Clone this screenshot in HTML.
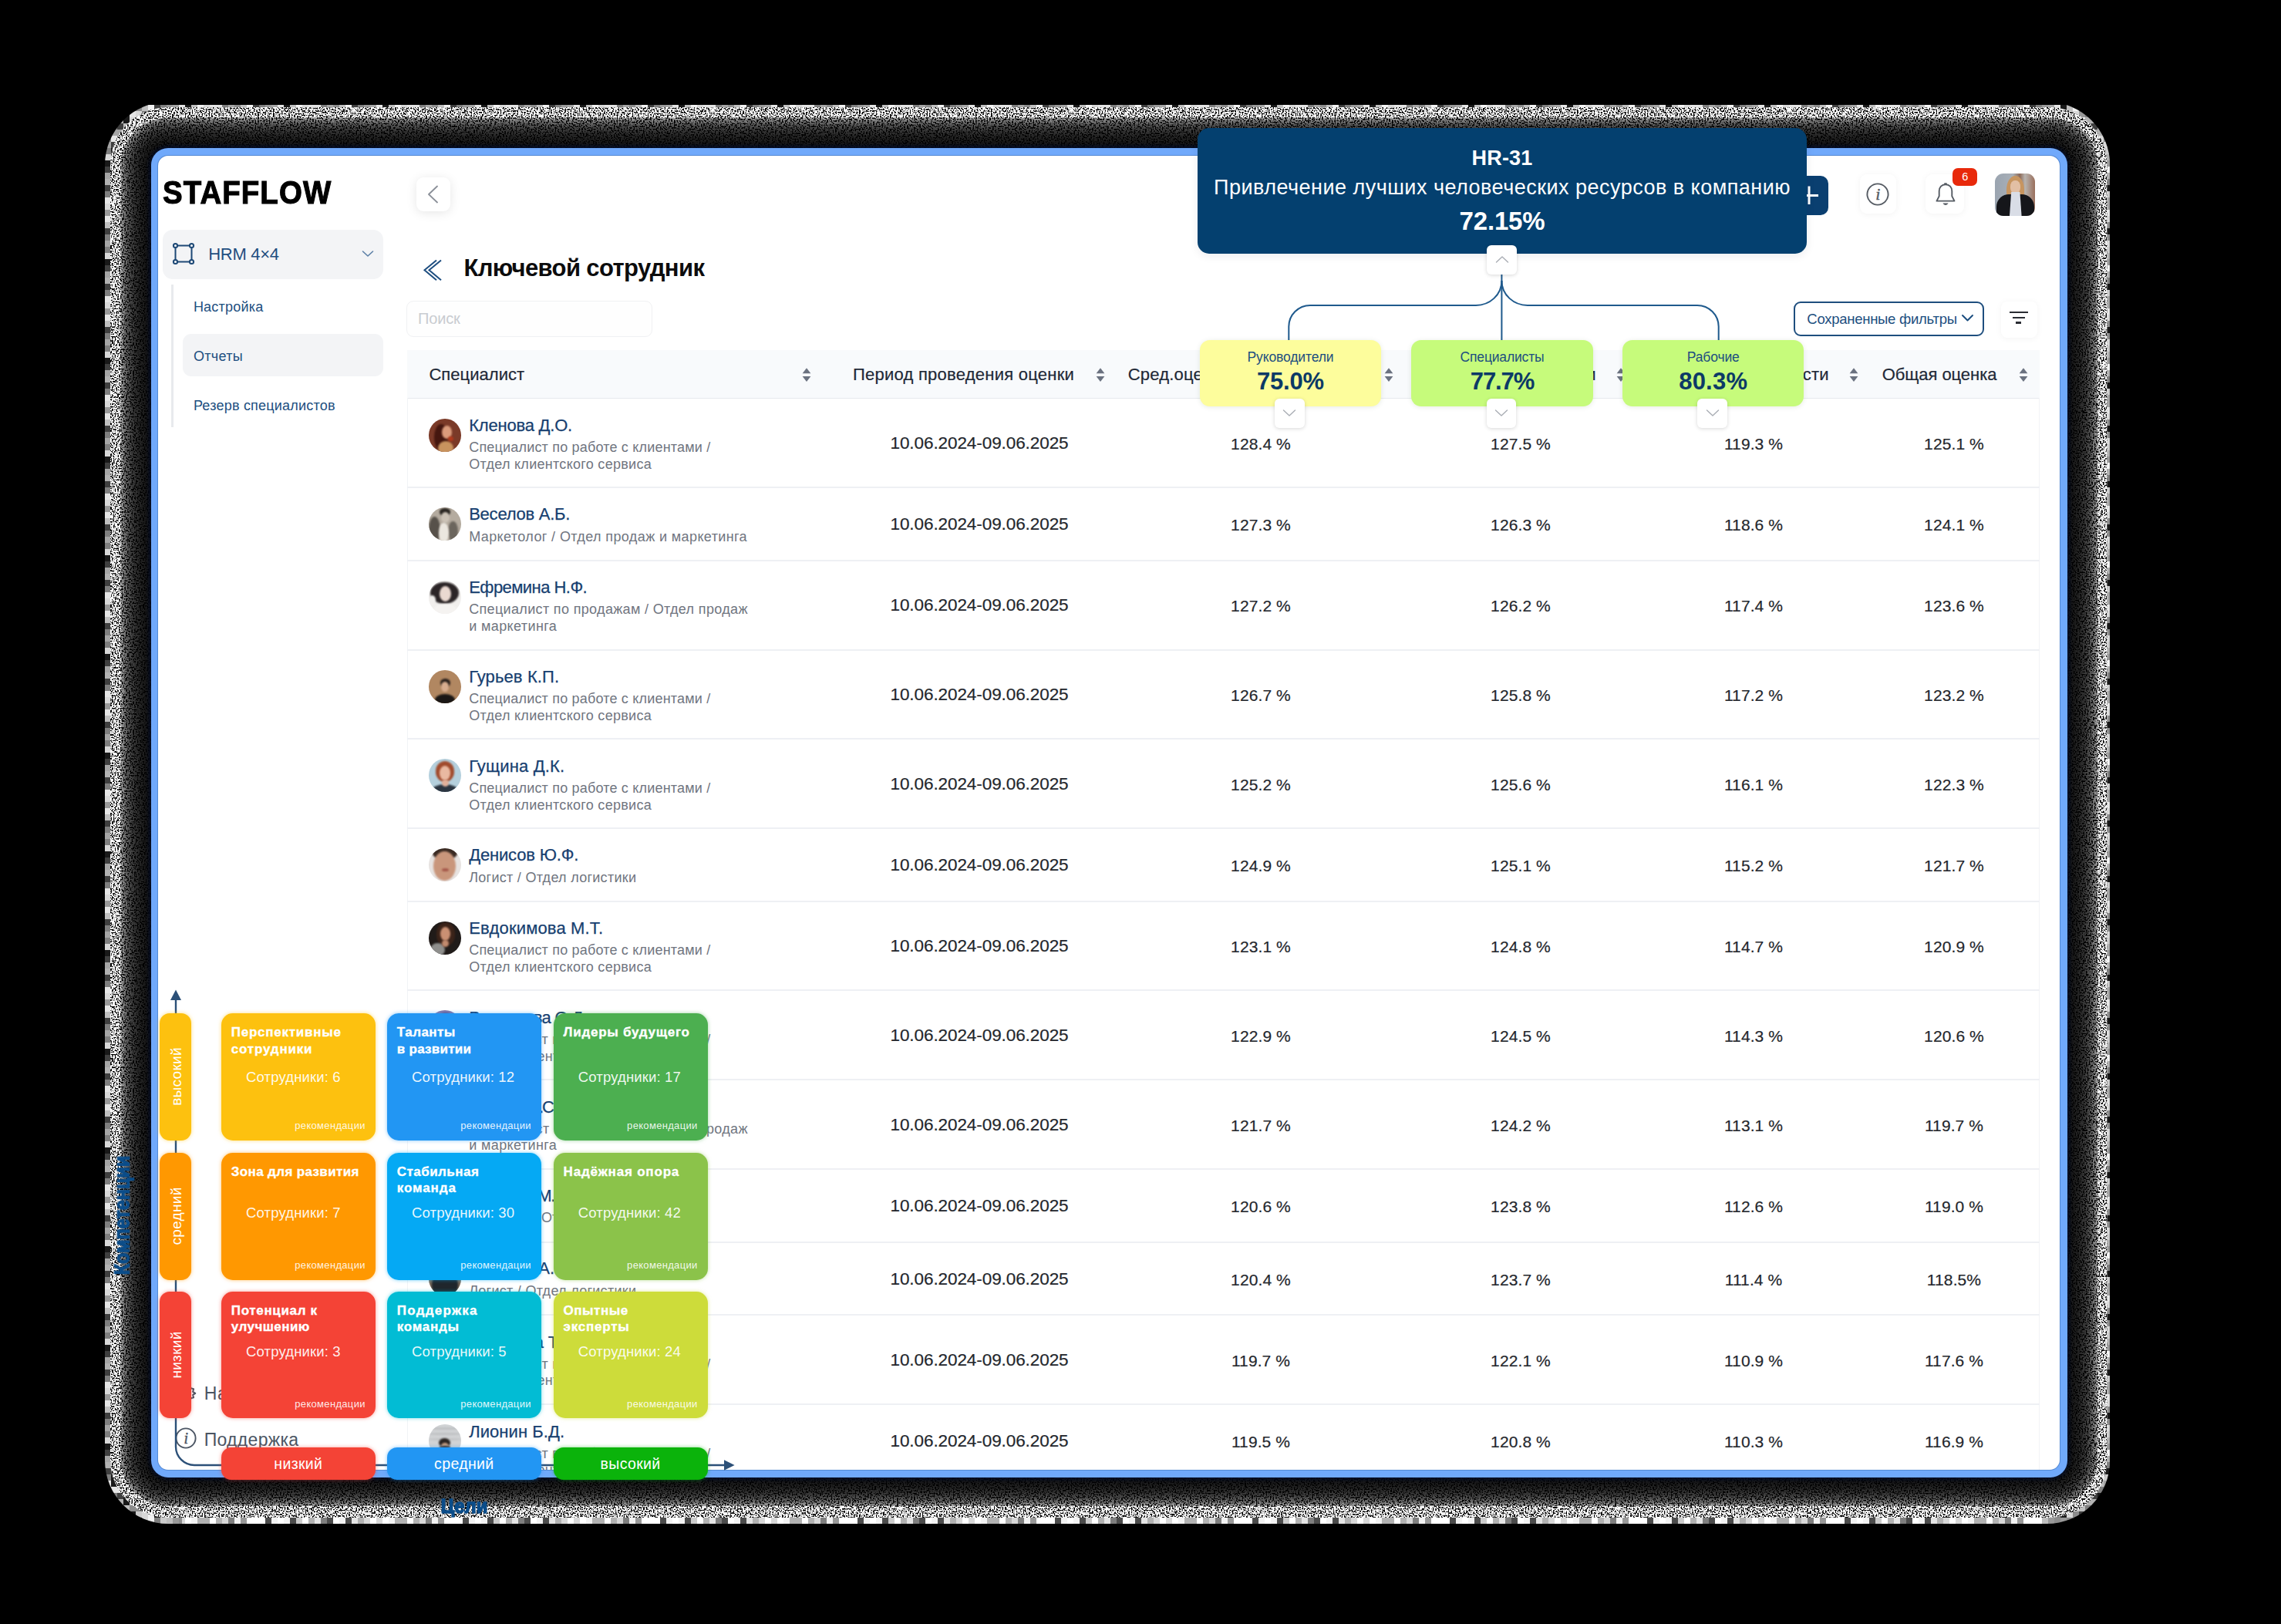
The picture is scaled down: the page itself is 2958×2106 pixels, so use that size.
<!DOCTYPE html>
<html lang="ru"><head><meta charset="utf-8"><title>STAFFLOW</title><style>
html,body{margin:0;padding:0;background:#000;}
body{width:2958px;height:2106px;position:relative;overflow:hidden;font-family:"Liberation Sans",sans-serif;}
.t{position:absolute;white-space:nowrap;}
.av{position:absolute;width:42.4px;height:43px;border-radius:50%;overflow:hidden;background:#888;}
.av i{position:absolute;border-radius:50%;filter:blur(1.3px);}
</style></head><body>
<svg style="position:absolute;left:0;top:0" width="2958" height="2106" viewBox="0 0 2958 2106">
<defs>
<pattern id="blk" width="128" height="128" patternUnits="userSpaceOnUse" x="136" y="136">
<rect x="0" y="0" width="8" height="8" fill="rgb(216,216,216)"/>
<rect x="0" y="8" width="8" height="8" fill="rgb(153,153,153)"/>
<rect x="0" y="16" width="8" height="8" fill="rgb(229,229,229)"/>
<rect x="0" y="24" width="8" height="8" fill="rgb(191,191,191)"/>
<rect x="0" y="32" width="8" height="8" fill="rgb(63,63,63)"/>
<rect x="0" y="40" width="8" height="8" fill="rgb(127,127,127)"/>
<rect x="0" y="48" width="8" height="8" fill="rgb(165,165,165)"/>
<rect x="0" y="56" width="8" height="8" fill="rgb(127,127,127)"/>
<rect x="0" y="64" width="8" height="8" fill="rgb(216,216,216)"/>
<rect x="0" y="72" width="8" height="8" fill="rgb(25,25,25)"/>
<rect x="0" y="80" width="8" height="8" fill="rgb(63,63,63)"/>
<rect x="0" y="88" width="8" height="8" fill="rgb(165,165,165)"/>
<rect x="0" y="96" width="8" height="8" fill="rgb(178,178,178)"/>
<rect x="0" y="104" width="8" height="8" fill="rgb(63,63,63)"/>
<rect x="0" y="112" width="8" height="8" fill="rgb(127,127,127)"/>
<rect x="0" y="120" width="8" height="8" fill="rgb(229,229,229)"/>
<rect x="8" y="0" width="8" height="8" fill="rgb(229,229,229)"/>
<rect x="8" y="8" width="8" height="8" fill="rgb(127,127,127)"/>
<rect x="8" y="16" width="8" height="8" fill="rgb(178,178,178)"/>
<rect x="8" y="24" width="8" height="8" fill="rgb(127,127,127)"/>
<rect x="8" y="32" width="8" height="8" fill="rgb(165,165,165)"/>
<rect x="8" y="40" width="8" height="8" fill="rgb(229,229,229)"/>
<rect x="8" y="48" width="8" height="8" fill="rgb(63,63,63)"/>
<rect x="8" y="56" width="8" height="8" fill="rgb(25,25,25)"/>
<rect x="8" y="64" width="8" height="8" fill="rgb(127,127,127)"/>
<rect x="8" y="72" width="8" height="8" fill="rgb(178,178,178)"/>
<rect x="8" y="80" width="8" height="8" fill="rgb(191,191,191)"/>
<rect x="8" y="88" width="8" height="8" fill="rgb(191,191,191)"/>
<rect x="8" y="96" width="8" height="8" fill="rgb(25,25,25)"/>
<rect x="8" y="104" width="8" height="8" fill="rgb(63,63,63)"/>
<rect x="8" y="112" width="8" height="8" fill="rgb(25,25,25)"/>
<rect x="8" y="120" width="8" height="8" fill="rgb(25,25,25)"/>
<rect x="16" y="0" width="8" height="8" fill="rgb(229,229,229)"/>
<rect x="16" y="8" width="8" height="8" fill="rgb(63,63,63)"/>
<rect x="16" y="16" width="8" height="8" fill="rgb(178,178,178)"/>
<rect x="16" y="24" width="8" height="8" fill="rgb(63,63,63)"/>
<rect x="16" y="32" width="8" height="8" fill="rgb(165,165,165)"/>
<rect x="16" y="40" width="8" height="8" fill="rgb(153,153,153)"/>
<rect x="16" y="48" width="8" height="8" fill="rgb(204,204,204)"/>
<rect x="16" y="56" width="8" height="8" fill="rgb(229,229,229)"/>
<rect x="16" y="64" width="8" height="8" fill="rgb(153,153,153)"/>
<rect x="16" y="72" width="8" height="8" fill="rgb(165,165,165)"/>
<rect x="16" y="80" width="8" height="8" fill="rgb(127,127,127)"/>
<rect x="16" y="88" width="8" height="8" fill="rgb(25,25,25)"/>
<rect x="16" y="96" width="8" height="8" fill="rgb(204,204,204)"/>
<rect x="16" y="104" width="8" height="8" fill="rgb(165,165,165)"/>
<rect x="16" y="112" width="8" height="8" fill="rgb(191,191,191)"/>
<rect x="16" y="120" width="8" height="8" fill="rgb(153,153,153)"/>
<rect x="24" y="0" width="8" height="8" fill="rgb(127,127,127)"/>
<rect x="24" y="8" width="8" height="8" fill="rgb(25,25,25)"/>
<rect x="24" y="16" width="8" height="8" fill="rgb(25,25,25)"/>
<rect x="24" y="24" width="8" height="8" fill="rgb(191,191,191)"/>
<rect x="24" y="32" width="8" height="8" fill="rgb(178,178,178)"/>
<rect x="24" y="40" width="8" height="8" fill="rgb(216,216,216)"/>
<rect x="24" y="48" width="8" height="8" fill="rgb(127,127,127)"/>
<rect x="24" y="56" width="8" height="8" fill="rgb(165,165,165)"/>
<rect x="24" y="64" width="8" height="8" fill="rgb(242,242,242)"/>
<rect x="24" y="72" width="8" height="8" fill="rgb(127,127,127)"/>
<rect x="24" y="80" width="8" height="8" fill="rgb(25,25,25)"/>
<rect x="24" y="88" width="8" height="8" fill="rgb(63,63,63)"/>
<rect x="24" y="96" width="8" height="8" fill="rgb(25,25,25)"/>
<rect x="24" y="104" width="8" height="8" fill="rgb(178,178,178)"/>
<rect x="24" y="112" width="8" height="8" fill="rgb(140,140,140)"/>
<rect x="24" y="120" width="8" height="8" fill="rgb(191,191,191)"/>
<rect x="32" y="0" width="8" height="8" fill="rgb(165,165,165)"/>
<rect x="32" y="8" width="8" height="8" fill="rgb(229,229,229)"/>
<rect x="32" y="16" width="8" height="8" fill="rgb(216,216,216)"/>
<rect x="32" y="24" width="8" height="8" fill="rgb(140,140,140)"/>
<rect x="32" y="32" width="8" height="8" fill="rgb(25,25,25)"/>
<rect x="32" y="40" width="8" height="8" fill="rgb(140,140,140)"/>
<rect x="32" y="48" width="8" height="8" fill="rgb(216,216,216)"/>
<rect x="32" y="56" width="8" height="8" fill="rgb(204,204,204)"/>
<rect x="32" y="64" width="8" height="8" fill="rgb(178,178,178)"/>
<rect x="32" y="72" width="8" height="8" fill="rgb(153,153,153)"/>
<rect x="32" y="80" width="8" height="8" fill="rgb(242,242,242)"/>
<rect x="32" y="88" width="8" height="8" fill="rgb(178,178,178)"/>
<rect x="32" y="96" width="8" height="8" fill="rgb(127,127,127)"/>
<rect x="32" y="104" width="8" height="8" fill="rgb(25,25,25)"/>
<rect x="32" y="112" width="8" height="8" fill="rgb(204,204,204)"/>
<rect x="32" y="120" width="8" height="8" fill="rgb(165,165,165)"/>
<rect x="40" y="0" width="8" height="8" fill="rgb(140,140,140)"/>
<rect x="40" y="8" width="8" height="8" fill="rgb(216,216,216)"/>
<rect x="40" y="16" width="8" height="8" fill="rgb(242,242,242)"/>
<rect x="40" y="24" width="8" height="8" fill="rgb(140,140,140)"/>
<rect x="40" y="32" width="8" height="8" fill="rgb(204,204,204)"/>
<rect x="40" y="40" width="8" height="8" fill="rgb(25,25,25)"/>
<rect x="40" y="48" width="8" height="8" fill="rgb(127,127,127)"/>
<rect x="40" y="56" width="8" height="8" fill="rgb(127,127,127)"/>
<rect x="40" y="64" width="8" height="8" fill="rgb(165,165,165)"/>
<rect x="40" y="72" width="8" height="8" fill="rgb(229,229,229)"/>
<rect x="40" y="80" width="8" height="8" fill="rgb(153,153,153)"/>
<rect x="40" y="88" width="8" height="8" fill="rgb(216,216,216)"/>
<rect x="40" y="96" width="8" height="8" fill="rgb(153,153,153)"/>
<rect x="40" y="104" width="8" height="8" fill="rgb(140,140,140)"/>
<rect x="40" y="112" width="8" height="8" fill="rgb(229,229,229)"/>
<rect x="40" y="120" width="8" height="8" fill="rgb(63,63,63)"/>
<rect x="48" y="0" width="8" height="8" fill="rgb(191,191,191)"/>
<rect x="48" y="8" width="8" height="8" fill="rgb(127,127,127)"/>
<rect x="48" y="16" width="8" height="8" fill="rgb(165,165,165)"/>
<rect x="48" y="24" width="8" height="8" fill="rgb(25,25,25)"/>
<rect x="48" y="32" width="8" height="8" fill="rgb(216,216,216)"/>
<rect x="48" y="40" width="8" height="8" fill="rgb(216,216,216)"/>
<rect x="48" y="48" width="8" height="8" fill="rgb(242,242,242)"/>
<rect x="48" y="56" width="8" height="8" fill="rgb(216,216,216)"/>
<rect x="48" y="64" width="8" height="8" fill="rgb(25,25,25)"/>
<rect x="48" y="72" width="8" height="8" fill="rgb(140,140,140)"/>
<rect x="48" y="80" width="8" height="8" fill="rgb(25,25,25)"/>
<rect x="48" y="88" width="8" height="8" fill="rgb(140,140,140)"/>
<rect x="48" y="96" width="8" height="8" fill="rgb(127,127,127)"/>
<rect x="48" y="104" width="8" height="8" fill="rgb(127,127,127)"/>
<rect x="48" y="112" width="8" height="8" fill="rgb(204,204,204)"/>
<rect x="48" y="120" width="8" height="8" fill="rgb(140,140,140)"/>
<rect x="56" y="0" width="8" height="8" fill="rgb(242,242,242)"/>
<rect x="56" y="8" width="8" height="8" fill="rgb(191,191,191)"/>
<rect x="56" y="16" width="8" height="8" fill="rgb(127,127,127)"/>
<rect x="56" y="24" width="8" height="8" fill="rgb(63,63,63)"/>
<rect x="56" y="32" width="8" height="8" fill="rgb(242,242,242)"/>
<rect x="56" y="40" width="8" height="8" fill="rgb(242,242,242)"/>
<rect x="56" y="48" width="8" height="8" fill="rgb(204,204,204)"/>
<rect x="56" y="56" width="8" height="8" fill="rgb(191,191,191)"/>
<rect x="56" y="64" width="8" height="8" fill="rgb(25,25,25)"/>
<rect x="56" y="72" width="8" height="8" fill="rgb(191,191,191)"/>
<rect x="56" y="80" width="8" height="8" fill="rgb(140,140,140)"/>
<rect x="56" y="88" width="8" height="8" fill="rgb(204,204,204)"/>
<rect x="56" y="96" width="8" height="8" fill="rgb(242,242,242)"/>
<rect x="56" y="104" width="8" height="8" fill="rgb(229,229,229)"/>
<rect x="56" y="112" width="8" height="8" fill="rgb(191,191,191)"/>
<rect x="56" y="120" width="8" height="8" fill="rgb(216,216,216)"/>
<rect x="64" y="0" width="8" height="8" fill="rgb(63,63,63)"/>
<rect x="64" y="8" width="8" height="8" fill="rgb(140,140,140)"/>
<rect x="64" y="16" width="8" height="8" fill="rgb(216,216,216)"/>
<rect x="64" y="24" width="8" height="8" fill="rgb(153,153,153)"/>
<rect x="64" y="32" width="8" height="8" fill="rgb(25,25,25)"/>
<rect x="64" y="40" width="8" height="8" fill="rgb(127,127,127)"/>
<rect x="64" y="48" width="8" height="8" fill="rgb(140,140,140)"/>
<rect x="64" y="56" width="8" height="8" fill="rgb(63,63,63)"/>
<rect x="64" y="64" width="8" height="8" fill="rgb(178,178,178)"/>
<rect x="64" y="72" width="8" height="8" fill="rgb(204,204,204)"/>
<rect x="64" y="80" width="8" height="8" fill="rgb(153,153,153)"/>
<rect x="64" y="88" width="8" height="8" fill="rgb(242,242,242)"/>
<rect x="64" y="96" width="8" height="8" fill="rgb(178,178,178)"/>
<rect x="64" y="104" width="8" height="8" fill="rgb(229,229,229)"/>
<rect x="64" y="112" width="8" height="8" fill="rgb(229,229,229)"/>
<rect x="64" y="120" width="8" height="8" fill="rgb(140,140,140)"/>
<rect x="72" y="0" width="8" height="8" fill="rgb(127,127,127)"/>
<rect x="72" y="8" width="8" height="8" fill="rgb(153,153,153)"/>
<rect x="72" y="16" width="8" height="8" fill="rgb(140,140,140)"/>
<rect x="72" y="24" width="8" height="8" fill="rgb(229,229,229)"/>
<rect x="72" y="32" width="8" height="8" fill="rgb(165,165,165)"/>
<rect x="72" y="40" width="8" height="8" fill="rgb(204,204,204)"/>
<rect x="72" y="48" width="8" height="8" fill="rgb(153,153,153)"/>
<rect x="72" y="56" width="8" height="8" fill="rgb(229,229,229)"/>
<rect x="72" y="64" width="8" height="8" fill="rgb(165,165,165)"/>
<rect x="72" y="72" width="8" height="8" fill="rgb(204,204,204)"/>
<rect x="72" y="80" width="8" height="8" fill="rgb(242,242,242)"/>
<rect x="72" y="88" width="8" height="8" fill="rgb(229,229,229)"/>
<rect x="72" y="96" width="8" height="8" fill="rgb(216,216,216)"/>
<rect x="72" y="104" width="8" height="8" fill="rgb(191,191,191)"/>
<rect x="72" y="112" width="8" height="8" fill="rgb(229,229,229)"/>
<rect x="72" y="120" width="8" height="8" fill="rgb(178,178,178)"/>
<rect x="80" y="0" width="8" height="8" fill="rgb(153,153,153)"/>
<rect x="80" y="8" width="8" height="8" fill="rgb(127,127,127)"/>
<rect x="80" y="16" width="8" height="8" fill="rgb(153,153,153)"/>
<rect x="80" y="24" width="8" height="8" fill="rgb(153,153,153)"/>
<rect x="80" y="32" width="8" height="8" fill="rgb(178,178,178)"/>
<rect x="80" y="40" width="8" height="8" fill="rgb(191,191,191)"/>
<rect x="80" y="48" width="8" height="8" fill="rgb(178,178,178)"/>
<rect x="80" y="56" width="8" height="8" fill="rgb(63,63,63)"/>
<rect x="80" y="64" width="8" height="8" fill="rgb(140,140,140)"/>
<rect x="80" y="72" width="8" height="8" fill="rgb(25,25,25)"/>
<rect x="80" y="80" width="8" height="8" fill="rgb(153,153,153)"/>
<rect x="80" y="88" width="8" height="8" fill="rgb(204,204,204)"/>
<rect x="80" y="96" width="8" height="8" fill="rgb(204,204,204)"/>
<rect x="80" y="104" width="8" height="8" fill="rgb(63,63,63)"/>
<rect x="80" y="112" width="8" height="8" fill="rgb(153,153,153)"/>
<rect x="80" y="120" width="8" height="8" fill="rgb(229,229,229)"/>
<rect x="88" y="0" width="8" height="8" fill="rgb(165,165,165)"/>
<rect x="88" y="8" width="8" height="8" fill="rgb(216,216,216)"/>
<rect x="88" y="16" width="8" height="8" fill="rgb(25,25,25)"/>
<rect x="88" y="24" width="8" height="8" fill="rgb(25,25,25)"/>
<rect x="88" y="32" width="8" height="8" fill="rgb(216,216,216)"/>
<rect x="88" y="40" width="8" height="8" fill="rgb(153,153,153)"/>
<rect x="88" y="48" width="8" height="8" fill="rgb(242,242,242)"/>
<rect x="88" y="56" width="8" height="8" fill="rgb(165,165,165)"/>
<rect x="88" y="64" width="8" height="8" fill="rgb(25,25,25)"/>
<rect x="88" y="72" width="8" height="8" fill="rgb(191,191,191)"/>
<rect x="88" y="80" width="8" height="8" fill="rgb(191,191,191)"/>
<rect x="88" y="88" width="8" height="8" fill="rgb(242,242,242)"/>
<rect x="88" y="96" width="8" height="8" fill="rgb(63,63,63)"/>
<rect x="88" y="104" width="8" height="8" fill="rgb(140,140,140)"/>
<rect x="88" y="112" width="8" height="8" fill="rgb(191,191,191)"/>
<rect x="88" y="120" width="8" height="8" fill="rgb(165,165,165)"/>
<rect x="96" y="0" width="8" height="8" fill="rgb(229,229,229)"/>
<rect x="96" y="8" width="8" height="8" fill="rgb(229,229,229)"/>
<rect x="96" y="16" width="8" height="8" fill="rgb(229,229,229)"/>
<rect x="96" y="24" width="8" height="8" fill="rgb(229,229,229)"/>
<rect x="96" y="32" width="8" height="8" fill="rgb(127,127,127)"/>
<rect x="96" y="40" width="8" height="8" fill="rgb(140,140,140)"/>
<rect x="96" y="48" width="8" height="8" fill="rgb(191,191,191)"/>
<rect x="96" y="56" width="8" height="8" fill="rgb(229,229,229)"/>
<rect x="96" y="64" width="8" height="8" fill="rgb(63,63,63)"/>
<rect x="96" y="72" width="8" height="8" fill="rgb(178,178,178)"/>
<rect x="96" y="80" width="8" height="8" fill="rgb(127,127,127)"/>
<rect x="96" y="88" width="8" height="8" fill="rgb(178,178,178)"/>
<rect x="96" y="96" width="8" height="8" fill="rgb(140,140,140)"/>
<rect x="96" y="104" width="8" height="8" fill="rgb(153,153,153)"/>
<rect x="96" y="112" width="8" height="8" fill="rgb(127,127,127)"/>
<rect x="96" y="120" width="8" height="8" fill="rgb(216,216,216)"/>
<rect x="104" y="0" width="8" height="8" fill="rgb(25,25,25)"/>
<rect x="104" y="8" width="8" height="8" fill="rgb(63,63,63)"/>
<rect x="104" y="16" width="8" height="8" fill="rgb(127,127,127)"/>
<rect x="104" y="24" width="8" height="8" fill="rgb(63,63,63)"/>
<rect x="104" y="32" width="8" height="8" fill="rgb(25,25,25)"/>
<rect x="104" y="40" width="8" height="8" fill="rgb(153,153,153)"/>
<rect x="104" y="48" width="8" height="8" fill="rgb(165,165,165)"/>
<rect x="104" y="56" width="8" height="8" fill="rgb(127,127,127)"/>
<rect x="104" y="64" width="8" height="8" fill="rgb(216,216,216)"/>
<rect x="104" y="72" width="8" height="8" fill="rgb(25,25,25)"/>
<rect x="104" y="80" width="8" height="8" fill="rgb(63,63,63)"/>
<rect x="104" y="88" width="8" height="8" fill="rgb(127,127,127)"/>
<rect x="104" y="96" width="8" height="8" fill="rgb(178,178,178)"/>
<rect x="104" y="104" width="8" height="8" fill="rgb(25,25,25)"/>
<rect x="104" y="112" width="8" height="8" fill="rgb(229,229,229)"/>
<rect x="104" y="120" width="8" height="8" fill="rgb(153,153,153)"/>
<rect x="112" y="0" width="8" height="8" fill="rgb(191,191,191)"/>
<rect x="112" y="8" width="8" height="8" fill="rgb(204,204,204)"/>
<rect x="112" y="16" width="8" height="8" fill="rgb(216,216,216)"/>
<rect x="112" y="24" width="8" height="8" fill="rgb(25,25,25)"/>
<rect x="112" y="32" width="8" height="8" fill="rgb(216,216,216)"/>
<rect x="112" y="40" width="8" height="8" fill="rgb(140,140,140)"/>
<rect x="112" y="48" width="8" height="8" fill="rgb(127,127,127)"/>
<rect x="112" y="56" width="8" height="8" fill="rgb(127,127,127)"/>
<rect x="112" y="64" width="8" height="8" fill="rgb(140,140,140)"/>
<rect x="112" y="72" width="8" height="8" fill="rgb(140,140,140)"/>
<rect x="112" y="80" width="8" height="8" fill="rgb(140,140,140)"/>
<rect x="112" y="88" width="8" height="8" fill="rgb(140,140,140)"/>
<rect x="112" y="96" width="8" height="8" fill="rgb(204,204,204)"/>
<rect x="112" y="104" width="8" height="8" fill="rgb(127,127,127)"/>
<rect x="112" y="112" width="8" height="8" fill="rgb(153,153,153)"/>
<rect x="112" y="120" width="8" height="8" fill="rgb(127,127,127)"/>
<rect x="120" y="0" width="8" height="8" fill="rgb(242,242,242)"/>
<rect x="120" y="8" width="8" height="8" fill="rgb(216,216,216)"/>
<rect x="120" y="16" width="8" height="8" fill="rgb(242,242,242)"/>
<rect x="120" y="24" width="8" height="8" fill="rgb(204,204,204)"/>
<rect x="120" y="32" width="8" height="8" fill="rgb(140,140,140)"/>
<rect x="120" y="40" width="8" height="8" fill="rgb(242,242,242)"/>
<rect x="120" y="48" width="8" height="8" fill="rgb(153,153,153)"/>
<rect x="120" y="56" width="8" height="8" fill="rgb(165,165,165)"/>
<rect x="120" y="64" width="8" height="8" fill="rgb(63,63,63)"/>
<rect x="120" y="72" width="8" height="8" fill="rgb(178,178,178)"/>
<rect x="120" y="80" width="8" height="8" fill="rgb(165,165,165)"/>
<rect x="120" y="88" width="8" height="8" fill="rgb(216,216,216)"/>
<rect x="120" y="96" width="8" height="8" fill="rgb(153,153,153)"/>
<rect x="120" y="104" width="8" height="8" fill="rgb(242,242,242)"/>
<rect x="120" y="112" width="8" height="8" fill="rgb(165,165,165)"/>
<rect x="120" y="120" width="8" height="8" fill="rgb(63,63,63)"/>
</pattern>
<pattern id="blk2" width="256" height="8" patternUnits="userSpaceOnUse" x="136" y="1968">
<rect x="0" y="0" width="8" height="8" fill="rgb(255,255,255)"/>
<rect x="8" y="0" width="8" height="8" fill="rgb(178,178,178)"/>
<rect x="16" y="0" width="8" height="8" fill="rgb(229,229,229)"/>
<rect x="24" y="0" width="8" height="8" fill="rgb(127,127,127)"/>
<rect x="32" y="0" width="8" height="8" fill="rgb(76,76,76)"/>
<rect x="40" y="0" width="8" height="8" fill="rgb(255,255,255)"/>
<rect x="48" y="0" width="8" height="8" fill="rgb(242,242,242)"/>
<rect x="56" y="0" width="8" height="8" fill="rgb(76,76,76)"/>
<rect x="64" y="0" width="8" height="8" fill="rgb(229,229,229)"/>
<rect x="72" y="0" width="8" height="8" fill="rgb(178,178,178)"/>
<rect x="80" y="0" width="8" height="8" fill="rgb(216,216,216)"/>
<rect x="88" y="0" width="8" height="8" fill="rgb(255,255,255)"/>
<rect x="96" y="0" width="8" height="8" fill="rgb(216,216,216)"/>
<rect x="104" y="0" width="8" height="8" fill="rgb(255,255,255)"/>
<rect x="112" y="0" width="8" height="8" fill="rgb(242,242,242)"/>
<rect x="120" y="0" width="8" height="8" fill="rgb(178,178,178)"/>
<rect x="128" y="0" width="8" height="8" fill="rgb(178,178,178)"/>
<rect x="136" y="0" width="8" height="8" fill="rgb(255,255,255)"/>
<rect x="144" y="0" width="8" height="8" fill="rgb(178,178,178)"/>
<rect x="152" y="0" width="8" height="8" fill="rgb(216,216,216)"/>
<rect x="160" y="0" width="8" height="8" fill="rgb(127,127,127)"/>
<rect x="168" y="0" width="8" height="8" fill="rgb(242,242,242)"/>
<rect x="176" y="0" width="8" height="8" fill="rgb(153,153,153)"/>
<rect x="184" y="0" width="8" height="8" fill="rgb(255,255,255)"/>
<rect x="192" y="0" width="8" height="8" fill="rgb(255,255,255)"/>
<rect x="200" y="0" width="8" height="8" fill="rgb(255,255,255)"/>
<rect x="208" y="0" width="8" height="8" fill="rgb(76,76,76)"/>
<rect x="216" y="0" width="8" height="8" fill="rgb(242,242,242)"/>
<rect x="224" y="0" width="8" height="8" fill="rgb(255,255,255)"/>
<rect x="232" y="0" width="8" height="8" fill="rgb(242,242,242)"/>
<rect x="240" y="0" width="8" height="8" fill="rgb(76,76,76)"/>
<rect x="248" y="0" width="8" height="8" fill="rgb(204,204,204)"/>
</pattern>
<filter id="spk" x="0" y="0" width="100%" height="100%" filterUnits="objectBoundingBox" color-interpolation-filters="sRGB"><feTurbulence type="fractalNoise" baseFrequency="0.55" numOctaves="1" seed="3" result="n"/><feColorMatrix in="n" type="matrix" values="0 0 0 0 0  0 0 0 0 0  0 0 0 0 0  9 0 0 0 -4.36"/></filter>
<clipPath id="hclip"><rect x="143.0" y="139.0" width="2589.4" height="1829.0" rx="75.0"/></clipPath>
<clipPath id="crop"><rect x="136" y="136" width="2600" height="1840"/></clipPath>
</defs><g clip-path="url(#crop)">
<rect x="136.0" y="132.0" width="2600.2" height="1844.0" rx="82.0" fill="url(#blk)"/>
<rect x="236" y="1968" width="2412" height="8" fill="url(#blk2)"/>
<rect x="143.0" y="139.0" width="2589.4" height="1829.0" rx="75.0" fill="rgb(255,255,255)"/>
<rect x="144.5" y="140.5" width="2586.6" height="1825.8" rx="73.5" fill="rgb(255,255,255)"/>
<rect x="146.0" y="142.0" width="2583.8" height="1822.6" rx="72.0" fill="rgb(255,255,255)"/>
<rect x="147.5" y="143.5" width="2581.0" height="1819.4" rx="70.5" fill="rgb(255,255,255)"/>
<rect x="149.0" y="145.0" width="2578.2" height="1816.2" rx="69.0" fill="rgb(255,255,255)"/>
<rect x="150.5" y="146.5" width="2575.4" height="1813.1" rx="67.5" fill="rgb(255,255,255)"/>
<rect x="152.0" y="148.0" width="2572.6" height="1809.9" rx="66.0" fill="rgb(255,255,255)"/>
<rect x="153.5" y="149.5" width="2569.8" height="1806.7" rx="64.5" fill="rgb(255,255,255)"/>
<rect x="155.0" y="151.0" width="2567.0" height="1803.5" rx="63.0" fill="rgb(255,255,255)"/>
<rect x="156.5" y="152.5" width="2564.0" height="1800.6" rx="61.5" fill="rgb(165,165,165)"/>
<rect x="158.0" y="154.0" width="2561.0" height="1797.7" rx="60.0" fill="rgb(148,148,148)"/>
<rect x="159.5" y="155.5" width="2558.0" height="1794.8" rx="58.5" fill="rgb(134,134,134)"/>
<rect x="161.0" y="157.0" width="2555.0" height="1791.9" rx="57.0" fill="rgb(121,121,121)"/>
<rect x="162.5" y="158.5" width="2552.0" height="1789.0" rx="55.5" fill="rgb(109,109,109)"/>
<rect x="164.0" y="160.0" width="2549.0" height="1786.0" rx="54.0" fill="rgb(98,98,98)"/>
<rect x="165.5" y="161.5" width="2546.0" height="1783.1" rx="52.5" fill="rgb(88,88,88)"/>
<rect x="167.0" y="163.0" width="2543.0" height="1780.2" rx="51.0" fill="rgb(80,80,80)"/>
<rect x="168.5" y="164.5" width="2540.0" height="1777.3" rx="49.5" fill="rgb(74,74,74)"/>
<rect x="170.0" y="166.0" width="2537.0" height="1774.4" rx="48.0" fill="rgb(67,67,67)"/>
<rect x="171.5" y="167.5" width="2534.0" height="1771.5" rx="46.5" fill="rgb(61,61,61)"/>
<rect x="173.0" y="169.0" width="2531.0" height="1768.6" rx="45.0" fill="rgb(56,56,56)"/>
<rect x="174.5" y="170.5" width="2528.0" height="1765.7" rx="43.5" fill="rgb(52,52,52)"/>
<rect x="176.0" y="172.0" width="2525.0" height="1762.8" rx="42.0" fill="rgb(48,48,48)"/>
<rect x="177.5" y="173.5" width="2522.0" height="1759.9" rx="40.5" fill="rgb(45,45,45)"/>
<rect x="179.0" y="175.0" width="2519.0" height="1757.0" rx="39.0" fill="rgb(41,41,41)"/>
<rect x="180.5" y="176.5" width="2516.0" height="1754.1" rx="37.5" fill="rgb(37,37,37)"/>
<rect x="182.0" y="178.0" width="2513.0" height="1751.1" rx="36.0" fill="rgb(35,35,35)"/>
<rect x="183.5" y="179.5" width="2510.0" height="1748.2" rx="34.5" fill="rgb(33,33,33)"/>
<rect x="185.0" y="181.0" width="2507.0" height="1745.3" rx="33.0" fill="rgb(31,31,31)"/>
<rect x="186.5" y="182.5" width="2504.0" height="1742.4" rx="31.5" fill="rgb(28,28,28)"/>
<rect x="188.0" y="184.0" width="2501.0" height="1739.5" rx="30.0" fill="rgb(26,26,26)"/>
<rect x="189.5" y="185.5" width="2498.0" height="1736.6" rx="28.5" fill="rgb(24,24,24)"/>
<rect x="191.0" y="187.0" width="2495.0" height="1733.7" rx="27.0" fill="rgb(21,21,21)"/>
<rect x="192.5" y="188.5" width="2492.0" height="1730.8" rx="25.5" fill="rgb(19,19,19)"/>
<rect x="194.0" y="190.0" width="2489.0" height="1727.9" rx="24.0" fill="rgb(16,16,16)"/>
<rect x="195.5" y="191.5" width="2486.0" height="1725.0" rx="22.5" fill="rgb(14,14,14)"/>
<g clip-path="url(#hclip)"><rect x="120" y="120" width="2640" height="1880" fill="#000" filter="url(#spk)"/></g>
</g></svg>
<div style="position:absolute;left:196.0px;top:192.0px;width:2485.0px;height:1724.0px;background:#70a9fb;border-radius:22px;box-shadow:0 0 6px 1px #04123a;"></div>
<div style="position:absolute;left:205px;top:201.5px;width:2466px;height:1704.5px;background:#fff;border-radius:13px;overflow:hidden;box-shadow:0 0 0 1px #2b5c9c66;"><div style="position:absolute;left:-205px;top:-201.5px;width:2958px;height:2106px;">
<span class="t" style="left:211px;top:228.2px;font-size:43px;line-height:43px;font-weight:700;color:#000;letter-spacing:1.2px;-webkit-text-stroke:1.1px #000;transform:scaleX(0.894);transform-origin:0 0">STAFFLOW</span>
<div style="position:absolute;left:210.7px;top:297.6px;width:286.3px;height:64.1px;background:#f3f4f6;border-radius:13px;"></div>
<svg style="position:absolute;left:223px;top:314px" width="30" height="30" viewBox="0 0 30 30" fill="none" stroke="#1e4976" stroke-width="2"><rect x="4.5" y="4.5" width="21" height="21"/><circle cx="4.5" cy="4.5" r="2.6" fill="#f3f4f6"/><circle cx="25.5" cy="4.5" r="2.6" fill="#f3f4f6"/><circle cx="4.5" cy="25.5" r="2.6" fill="#f3f4f6"/><circle cx="25.5" cy="25.5" r="2.6" fill="#f3f4f6"/></svg>
<span class="t" style="left:270.2px;top:318.6px;font-size:22px;line-height:22px;color:#1f4e7f;letter-spacing:-0.29px;">HRM 4×4</span>
<svg style="position:absolute;left:468px;top:322px" width="18" height="14" viewBox="0 0 18 14" fill="none" stroke="#5b7fa6" stroke-width="1.6" stroke-linecap="round" stroke-linejoin="round"><path d="M2.5 4 L9 10 L15.5 4"/></svg>
<div style="position:absolute;left:222.3px;top:369.0px;width:2.5px;height:185.0px;background:#e8eaed;"></div>
<span class="t" style="left:250.9px;top:388.8px;font-size:18px;line-height:18px;color:#1d4f80;letter-spacing:0.22px;">Настройка</span>
<div style="position:absolute;left:237.4px;top:433.0px;width:259.6px;height:55.0px;background:#f3f4f6;border-radius:11px;"></div>
<span class="t" style="left:250.9px;top:452.7px;font-size:18px;line-height:18px;color:#1d4f80;letter-spacing:0.30px;">Отчеты</span>
<span class="t" style="left:250.9px;top:516.8px;font-size:18px;line-height:18px;color:#1d4f80;letter-spacing:0.22px;">Резерв специалистов</span>
<svg style="position:absolute;left:226px;top:1792px" width="30" height="30" viewBox="0 0 30 30" fill="none" stroke="#4b5563" stroke-width="2"><circle cx="15" cy="15" r="4.5"/><path d="M15 2.5l2 3.2 3.6-1 .9 3.6 3.6.9-1 3.6 3.2 2-3.2 2 1 3.6-3.6.9-.9 3.6-3.6-1-2 3.2-2-3.2-3.6 1-.9-3.6-3.6-.9 1-3.6-3.2-2 3.2-2-1-3.6 3.6-.9.9-3.6 3.6 1z" stroke-linejoin="round"/></svg>
<span class="t" style="left:264.7px;top:1795.5px;font-size:23px;line-height:23px;color:#4b5563;letter-spacing:0.58px;">Настройки</span>
<svg style="position:absolute;left:226px;top:1850.4px" width="30" height="30" viewBox="0 0 30 30"><circle cx="15" cy="15" r="12.6" fill="none" stroke="#4b5563" stroke-width="1.9"/><text x="15.3" y="21.5" text-anchor="middle" font-family="Liberation Serif" font-style="italic" font-weight="400" font-size="20" fill="#4b5563" stroke="#4b5563" stroke-width="0.4">i</text></svg>
<span class="t" style="left:264.7px;top:1855.8px;font-size:23px;line-height:23px;color:#4b5563;letter-spacing:0.31px;">Поддержка</span>
<div style="position:absolute;left:540.0px;top:230.4px;width:43.6px;height:43.2px;background:#fff;border-radius:9px;box-shadow:0 2px 14px rgba(0,0,0,.10);"></div>
<svg style="position:absolute;left:552px;top:239px" width="20" height="26" viewBox="0 0 20 26" fill="none" stroke="#8a8f98" stroke-width="1.8" stroke-linecap="round" stroke-linejoin="round"><path d="M15 2.5 L4 13 L15 23.5"/></svg>
<div style="position:absolute;left:2318.0px;top:227.5px;width:53.0px;height:51.5px;background:#0a3f70;border-radius:10px;"></div>
<svg style="position:absolute;left:2332px;top:239px" width="28" height="28" viewBox="0 0 28 28" stroke="#fff" stroke-width="3" fill="none"><path d="M14 2.5V26M2 14.5H26"/></svg>
<div style="position:absolute;left:2412.0px;top:226.0px;width:46.7px;height:51.0px;background:#fff;border-radius:9px;box-shadow:0 1px 10px rgba(0,0,0,.05);"></div>
<svg style="position:absolute;left:2419px;top:236.3px" width="32" height="32" viewBox="0 0 32 32"><circle cx="16" cy="16" r="13.6" fill="none" stroke="#555b63" stroke-width="1.9"/><text x="16.3" y="23" text-anchor="middle" font-family="Liberation Serif" font-style="italic" font-weight="400" font-size="22" fill="#555b63" stroke="#555b63" stroke-width="0.4">i</text></svg>
<div style="position:absolute;left:2496.5px;top:226.0px;width:50.5px;height:51.0px;background:#fff;border-radius:9px;box-shadow:0 1px 10px rgba(0,0,0,.05);"></div>
<svg style="position:absolute;left:2508px;top:236px" width="30" height="32" viewBox="0 0 30 32" fill="none" stroke="#555b63" stroke-width="1.9" stroke-linejoin="round"><path d="M15 3.2c-5 0-8.3 3.6-8.3 8.6v6.6L3.5 24.6h23l-3.2-6.2v-6.6c0-5-3.3-8.6-8.3-8.6z"/><path d="M14 2.2h2" stroke-linecap="round"/><path d="M11.5 27.6c.8 1.7 2 2.4 3.5 2.4s2.700-.7 3.5-2.4z" fill="#555b63" stroke="none"/></svg>
<div style="position:absolute;left:2532.4px;top:218.0px;width:31.6px;height:22.7px;background:#e8290b;border-radius:7px;"></div>
<span class="t" style="left:2548.3px;top:222.3px;font-size:14.5px;line-height:14.5px;color:#fff;transform:translateX(-50%);">6</span>
<div style="position:absolute;left:2586.8px;top:225.0px;width:52.7px;height:54.8px;border-radius:11px;overflow:hidden;background:linear-gradient(90deg,#9aa4b0 0%,#a9b0b8 45%,#8d6a58 62%,#b8b4b0 75%,#9a6f5c 100%);"><div style="position:absolute;left:15.5px;top:3px;width:23px;height:36px;border-radius:50% 50% 40% 40%;background:#c79560"></div><div style="position:absolute;left:20.5px;top:9px;width:13px;height:17px;border-radius:45%;background:#e2bfa4"></div><div style="position:absolute;left:2px;top:27px;width:49px;height:34px;border-radius:16px 16px 0 0;background:#15161a"></div><div style="position:absolute;left:19px;top:24px;width:16px;height:34px;background:#d9dde6;clip-path:polygon(15% 0,85% 0,100% 100%,0 100%)"></div></div>
<svg style="position:absolute;left:546px;top:334px" width="30" height="33" viewBox="0 0 30 33" fill="none" stroke="#1e4e80" stroke-width="2" stroke-linecap="butt" stroke-linejoin="miter"><path d="M20 3.5 L4.5 16.3 L20 29.2"/><path d="M26 3.5 L10.5 16.3 L26 29.2"/></svg>
<span class="t" style="left:601.5px;top:332.4px;font-size:31px;line-height:31px;color:#0c0c0d;font-weight:700;letter-spacing:-0.62px;">Ключевой сотрудник</span>
<div style="position:absolute;left:527.4px;top:390.0px;width:318.4px;height:47.0px;border:1.5px solid #f0f1f3;border-radius:9px;box-sizing:border-box;background:#fefefe;"></div>
<span class="t" style="left:542.0px;top:403.1px;font-size:20px;line-height:20px;color:#c9ccd1;letter-spacing:-0.14px;">Поиск</span>
<div style="position:absolute;left:2326.3px;top:390.7px;width:246.5px;height:44.9px;border:2.2px solid #1e4e7e;border-radius:9px;box-sizing:border-box;"></div>
<span class="t" style="left:2343.3px;top:404.5px;font-size:18.5px;line-height:18.5px;color:#1d4f80;letter-spacing:-0.27px;">Сохраненные фильтры</span>
<svg style="position:absolute;left:2542px;top:405px" width="20" height="14" viewBox="0 0 20 14" fill="none" stroke="#1d4f80" stroke-width="2" stroke-linecap="round" stroke-linejoin="round"><path d="M3 4 L9.5 10.5 L16 4"/></svg>
<div style="position:absolute;left:2594.7px;top:391.0px;width:47.3px;height:46.7px;background:#fff;border-radius:8px;box-shadow:0 1px 8px rgba(0,0,0,.05);"></div>
<div style="position:absolute;left:2606.0px;top:404.2px;width:24.0px;height:2.2px;background:#2a2d33;"></div>
<div style="position:absolute;left:2609.6px;top:410.9px;width:16.7px;height:2.2px;background:#2a2d33;"></div>
<div style="position:absolute;left:2614.0px;top:417.2px;width:7.4px;height:2.5px;background:#2a2d33;"></div>
<div style="position:absolute;left:527.6px;top:454.0px;width:2117.4px;height:62.3px;background:#f8fafc;border-bottom:1.5px solid #e6e9ee;"></div>
<div style="position:absolute;left:527.6px;top:516.0px;width:1.5px;height:1394.0px;background:#f1f3f6;"></div>
<div style="position:absolute;left:2643.5px;top:516.0px;width:1.5px;height:1394.0px;background:#f1f3f6;"></div>
<span class="t" style="left:556.4px;top:475.0px;font-size:22px;line-height:22px;color:#1f2937;letter-spacing:0.04px;-webkit-text-stroke:0.22px #1f2937;">Специалист</span>
<span class="t" style="left:1106.0px;top:475.0px;font-size:22px;line-height:22px;color:#1f2937;letter-spacing:0.24px;-webkit-text-stroke:0.22px #1f2937;">Период проведения оценки</span>
<span class="t" style="left:1462.7px;top:475.0px;font-size:22px;line-height:22px;color:#1f2937;letter-spacing:0.2px;-webkit-text-stroke:0.22px #1f2937;">Сред.оценка по целям</span>
<span class="t" style="left:2069.7px;top:475.0px;font-size:22px;line-height:22px;color:#1f2937;letter-spacing:0.2px;transform:translateX(-100%);-webkit-text-stroke:0.22px #1f2937;">Оценка компетенции</span>
<span class="t" style="left:2371.7px;top:475.0px;font-size:22px;line-height:22px;color:#1f2937;letter-spacing:0.2px;transform:translateX(-100%);-webkit-text-stroke:0.22px #1f2937;">Оценка результативности</span>
<span class="t" style="left:2440.7px;top:475.0px;font-size:22px;line-height:22px;color:#1f2937;letter-spacing:-0.06px;-webkit-text-stroke:0.22px #1f2937;">Общая оценка</span>
<svg style="position:absolute;left:1039.4px;top:476px" width="14" height="20" viewBox="0 0 14 20" fill="#6b7280"><path d="M7 1.3 L12.4 8.3 H1.6Z"/><path d="M7 18.9 L12.4 11.9 H1.6Z"/></svg>
<svg style="position:absolute;left:1419.5px;top:476px" width="14" height="20" viewBox="0 0 14 20" fill="#6b7280"><path d="M7 1.3 L12.4 8.3 H1.6Z"/><path d="M7 18.9 L12.4 11.9 H1.6Z"/></svg>
<svg style="position:absolute;left:1793.6px;top:476px" width="14" height="20" viewBox="0 0 14 20" fill="#6b7280"><path d="M7 1.3 L12.4 8.3 H1.6Z"/><path d="M7 18.9 L12.4 11.9 H1.6Z"/></svg>
<svg style="position:absolute;left:2095.0px;top:476px" width="14" height="20" viewBox="0 0 14 20" fill="#6b7280"><path d="M7 1.3 L12.4 8.3 H1.6Z"/><path d="M7 18.9 L12.4 11.9 H1.6Z"/></svg>
<svg style="position:absolute;left:2397.0px;top:476px" width="14" height="20" viewBox="0 0 14 20" fill="#6b7280"><path d="M7 1.3 L12.4 8.3 H1.6Z"/><path d="M7 18.9 L12.4 11.9 H1.6Z"/></svg>
<svg style="position:absolute;left:2616.6px;top:476px" width="14" height="20" viewBox="0 0 14 20" fill="#6b7280"><path d="M7 1.3 L12.4 8.3 H1.6Z"/><path d="M7 18.9 L12.4 11.9 H1.6Z"/></svg>
<div style="position:absolute;left:527.6px;top:631.0px;width:2117.4px;height:2.0px;background:#eef0f4;"></div>
<div class="av" style="left:555.6px;top:542.5px;background:#7b3a28"><i style="left:18%;top:18%;width:42%;height:80%;background:#45170f"></i><i style="left:42%;top:22%;width:30%;height:40%;background:#dc9c7c"></i><i style="left:30%;top:68%;width:46%;height:44%;background:#c8935e"></i><i style="left:60%;top:55%;width:16%;height:14%;background:#b23a1c"></i></div>
<span class="t" style="left:608.2px;top:541.1px;font-size:22px;line-height:22px;color:#173f70;letter-spacing:-0.21px;-webkit-text-stroke:0.25px #173f70;">Кленова Д.О.</span>
<span class="t" style="left:608.2px;top:571.1px;font-size:18px;line-height:18px;color:#70757f;letter-spacing:0.19px;">Специалист по работе с клиентами /</span>
<span class="t" style="left:608.2px;top:592.7px;font-size:18px;line-height:18px;color:#70757f;letter-spacing:0.29px;">Отдел клиентского сервиса</span>
<span class="t" style="left:1270.0px;top:564.0px;font-size:22.5px;line-height:22.5px;color:#24272d;letter-spacing:-0.08px;transform:translateX(-50%);-webkit-text-stroke:0.2px #24272d;">10.06.2024-09.06.2025</span>
<span class="t" style="left:1635.0px;top:565.0px;font-size:21px;line-height:21px;color:#24272d;letter-spacing:0.1px;transform:translateX(-50%);-webkit-text-stroke:0.2px #24272d;">128.4 %</span>
<span class="t" style="left:1972.0px;top:565.0px;font-size:21px;line-height:21px;color:#24272d;letter-spacing:0.1px;transform:translateX(-50%);-webkit-text-stroke:0.2px #24272d;">127.5 %</span>
<span class="t" style="left:2274.0px;top:565.0px;font-size:21px;line-height:21px;color:#24272d;letter-spacing:0.1px;transform:translateX(-50%);-webkit-text-stroke:0.2px #24272d;">119.3 %</span>
<span class="t" style="left:2534.0px;top:565.0px;font-size:21px;line-height:21px;color:#24272d;letter-spacing:0.1px;transform:translateX(-50%);-webkit-text-stroke:0.2px #24272d;">125.1 %</span>
<div style="position:absolute;left:527.6px;top:726.0px;width:2117.4px;height:2.0px;background:#eef0f4;"></div>
<div class="av" style="left:555.6px;top:658.2px;background:#b4ab9f"><i style="left:0%;top:28%;width:36%;height:80%;background:#57514a"></i><i style="left:60%;top:42%;width:30%;height:60%;background:#6b655d"></i><i style="left:34%;top:2%;width:34%;height:22%;background:#2b2723"></i><i style="left:38%;top:14%;width:26%;height:32%;background:#cbc2b6"></i><i style="left:32%;top:46%;width:30%;height:60%;background:#ebe7df"></i></div>
<span class="t" style="left:608.2px;top:656.1px;font-size:22px;line-height:22px;color:#173f70;letter-spacing:-0.24px;-webkit-text-stroke:0.25px #173f70;">Веселов А.Б.</span>
<span class="t" style="left:608.2px;top:686.6px;font-size:18px;line-height:18px;color:#70757f;letter-spacing:0.39px;">Маркетолог / Отдел продаж и маркетинга</span>
<span class="t" style="left:1270.0px;top:669.2px;font-size:22.5px;line-height:22.5px;color:#24272d;letter-spacing:-0.08px;transform:translateX(-50%);-webkit-text-stroke:0.2px #24272d;">10.06.2024-09.06.2025</span>
<span class="t" style="left:1635.0px;top:670.2px;font-size:21px;line-height:21px;color:#24272d;letter-spacing:0.1px;transform:translateX(-50%);-webkit-text-stroke:0.2px #24272d;">127.3 %</span>
<span class="t" style="left:1972.0px;top:670.2px;font-size:21px;line-height:21px;color:#24272d;letter-spacing:0.1px;transform:translateX(-50%);-webkit-text-stroke:0.2px #24272d;">126.3 %</span>
<span class="t" style="left:2274.0px;top:670.2px;font-size:21px;line-height:21px;color:#24272d;letter-spacing:0.1px;transform:translateX(-50%);-webkit-text-stroke:0.2px #24272d;">118.6 %</span>
<span class="t" style="left:2534.0px;top:670.2px;font-size:21px;line-height:21px;color:#24272d;letter-spacing:0.1px;transform:translateX(-50%);-webkit-text-stroke:0.2px #24272d;">124.1 %</span>
<div style="position:absolute;left:527.6px;top:842.0px;width:2117.4px;height:2.0px;background:#eef0f4;"></div>
<div class="av" style="left:555.6px;top:752.9px;background:#f1efed"><i style="left:6%;top:4%;width:88%;height:66%;background:#2b2527"></i><i style="left:34%;top:16%;width:36%;height:48%;background:#ead9d1"></i><i style="left:18%;top:70%;width:68%;height:36%;background:#f5f3f1"></i><i style="left:0%;top:45%;width:22%;height:30%;background:#f1efed"></i></div>
<span class="t" style="left:608.2px;top:751.4px;font-size:22px;line-height:22px;color:#173f70;letter-spacing:-0.54px;-webkit-text-stroke:0.25px #173f70;">Ефремина Н.Ф.</span>
<span class="t" style="left:608.2px;top:781.4px;font-size:18px;line-height:18px;color:#70757f;letter-spacing:0.34px;">Специалист по продажам / Отдел продаж</span>
<span class="t" style="left:608.2px;top:803.0px;font-size:18px;line-height:18px;color:#70757f;letter-spacing:0.39px;">и маркетинга</span>
<span class="t" style="left:1270.0px;top:774.4px;font-size:22.5px;line-height:22.5px;color:#24272d;letter-spacing:-0.08px;transform:translateX(-50%);-webkit-text-stroke:0.2px #24272d;">10.06.2024-09.06.2025</span>
<span class="t" style="left:1635.0px;top:775.3px;font-size:21px;line-height:21px;color:#24272d;letter-spacing:0.1px;transform:translateX(-50%);-webkit-text-stroke:0.2px #24272d;">127.2 %</span>
<span class="t" style="left:1972.0px;top:775.3px;font-size:21px;line-height:21px;color:#24272d;letter-spacing:0.1px;transform:translateX(-50%);-webkit-text-stroke:0.2px #24272d;">126.2 %</span>
<span class="t" style="left:2274.0px;top:775.3px;font-size:21px;line-height:21px;color:#24272d;letter-spacing:0.1px;transform:translateX(-50%);-webkit-text-stroke:0.2px #24272d;">117.4 %</span>
<span class="t" style="left:2534.0px;top:775.3px;font-size:21px;line-height:21px;color:#24272d;letter-spacing:0.1px;transform:translateX(-50%);-webkit-text-stroke:0.2px #24272d;">123.6 %</span>
<div style="position:absolute;left:527.6px;top:957.0px;width:2117.4px;height:2.0px;background:#eef0f4;"></div>
<div class="av" style="left:555.6px;top:868.6px;background:#b18761"><i style="left:36%;top:26%;width:30%;height:26%;background:#2b211d"></i><i style="left:39%;top:36%;width:24%;height:30%;background:#d8ad8f"></i><i style="left:20%;top:72%;width:62%;height:38%;background:#1b1715"></i></div>
<span class="t" style="left:608.2px;top:867.2px;font-size:22px;line-height:22px;color:#173f70;letter-spacing:0.11px;-webkit-text-stroke:0.25px #173f70;">Гурьев К.П.</span>
<span class="t" style="left:608.2px;top:897.2px;font-size:18px;line-height:18px;color:#70757f;letter-spacing:0.19px;">Специалист по работе с клиентами /</span>
<span class="t" style="left:608.2px;top:918.8px;font-size:18px;line-height:18px;color:#70757f;letter-spacing:0.29px;">Отдел клиентского сервиса</span>
<span class="t" style="left:1270.0px;top:890.1px;font-size:22.5px;line-height:22.5px;color:#24272d;letter-spacing:-0.08px;transform:translateX(-50%);-webkit-text-stroke:0.2px #24272d;">10.06.2024-09.06.2025</span>
<span class="t" style="left:1635.0px;top:891.1px;font-size:21px;line-height:21px;color:#24272d;letter-spacing:0.1px;transform:translateX(-50%);-webkit-text-stroke:0.2px #24272d;">126.7 %</span>
<span class="t" style="left:1972.0px;top:891.1px;font-size:21px;line-height:21px;color:#24272d;letter-spacing:0.1px;transform:translateX(-50%);-webkit-text-stroke:0.2px #24272d;">125.8 %</span>
<span class="t" style="left:2274.0px;top:891.1px;font-size:21px;line-height:21px;color:#24272d;letter-spacing:0.1px;transform:translateX(-50%);-webkit-text-stroke:0.2px #24272d;">117.2 %</span>
<span class="t" style="left:2534.0px;top:891.1px;font-size:21px;line-height:21px;color:#24272d;letter-spacing:0.1px;transform:translateX(-50%);-webkit-text-stroke:0.2px #24272d;">123.2 %</span>
<div style="position:absolute;left:527.6px;top:1073.0px;width:2117.4px;height:2.0px;background:#eef0f4;"></div>
<div class="av" style="left:555.6px;top:984.4px;background:#b5d0dd"><i style="left:22%;top:6%;width:58%;height:62%;background:#a14b2d"></i><i style="left:34%;top:20%;width:34%;height:44%;background:#e9b9a1"></i><i style="left:12%;top:76%;width:76%;height:34%;background:#2b3541"></i><i style="left:40%;top:62%;width:22%;height:20%;background:#e2b09a"></i></div>
<span class="t" style="left:608.2px;top:982.9px;font-size:22px;line-height:22px;color:#173f70;letter-spacing:0.16px;-webkit-text-stroke:0.25px #173f70;">Гущина Д.К.</span>
<span class="t" style="left:608.2px;top:1012.9px;font-size:18px;line-height:18px;color:#70757f;letter-spacing:0.19px;">Специалист по работе с клиентами /</span>
<span class="t" style="left:608.2px;top:1034.5px;font-size:18px;line-height:18px;color:#70757f;letter-spacing:0.29px;">Отдел клиентского сервиса</span>
<span class="t" style="left:1270.0px;top:1005.9px;font-size:22.5px;line-height:22.5px;color:#24272d;letter-spacing:-0.08px;transform:translateX(-50%);-webkit-text-stroke:0.2px #24272d;">10.06.2024-09.06.2025</span>
<span class="t" style="left:1635.0px;top:1006.8px;font-size:21px;line-height:21px;color:#24272d;letter-spacing:0.1px;transform:translateX(-50%);-webkit-text-stroke:0.2px #24272d;">125.2 %</span>
<span class="t" style="left:1972.0px;top:1006.8px;font-size:21px;line-height:21px;color:#24272d;letter-spacing:0.1px;transform:translateX(-50%);-webkit-text-stroke:0.2px #24272d;">125.6 %</span>
<span class="t" style="left:2274.0px;top:1006.8px;font-size:21px;line-height:21px;color:#24272d;letter-spacing:0.1px;transform:translateX(-50%);-webkit-text-stroke:0.2px #24272d;">116.1 %</span>
<span class="t" style="left:2534.0px;top:1006.8px;font-size:21px;line-height:21px;color:#24272d;letter-spacing:0.1px;transform:translateX(-50%);-webkit-text-stroke:0.2px #24272d;">122.3 %</span>
<div style="position:absolute;left:527.6px;top:1168.0px;width:2117.4px;height:2.0px;background:#eef0f4;"></div>
<div class="av" style="left:555.6px;top:1100.1px;background:#e7e3e1"><i style="left:12%;top:-6%;width:76%;height:40%;background:#3b2b23"></i><i style="left:16%;top:10%;width:68%;height:88%;background:#c9967b"></i><i style="left:40%;top:60%;width:22%;height:10%;background:#a5584a"></i></div>
<span class="t" style="left:608.2px;top:1098.0px;font-size:22px;line-height:22px;color:#173f70;letter-spacing:-0.17px;-webkit-text-stroke:0.25px #173f70;">Денисов Ю.Ф.</span>
<span class="t" style="left:608.2px;top:1128.5px;font-size:18px;line-height:18px;color:#70757f;letter-spacing:0.28px;">Логист / Отдел логистики</span>
<span class="t" style="left:1270.0px;top:1111.1px;font-size:22.5px;line-height:22.5px;color:#24272d;letter-spacing:-0.08px;transform:translateX(-50%);-webkit-text-stroke:0.2px #24272d;">10.06.2024-09.06.2025</span>
<span class="t" style="left:1635.0px;top:1112.0px;font-size:21px;line-height:21px;color:#24272d;letter-spacing:0.1px;transform:translateX(-50%);-webkit-text-stroke:0.2px #24272d;">124.9 %</span>
<span class="t" style="left:1972.0px;top:1112.0px;font-size:21px;line-height:21px;color:#24272d;letter-spacing:0.1px;transform:translateX(-50%);-webkit-text-stroke:0.2px #24272d;">125.1 %</span>
<span class="t" style="left:2274.0px;top:1112.0px;font-size:21px;line-height:21px;color:#24272d;letter-spacing:0.1px;transform:translateX(-50%);-webkit-text-stroke:0.2px #24272d;">115.2 %</span>
<span class="t" style="left:2534.0px;top:1112.0px;font-size:21px;line-height:21px;color:#24272d;letter-spacing:0.1px;transform:translateX(-50%);-webkit-text-stroke:0.2px #24272d;">121.7 %</span>
<div style="position:absolute;left:527.6px;top:1283.0px;width:2117.4px;height:2.0px;background:#eef0f4;"></div>
<div class="av" style="left:555.6px;top:1194.7px;background:#201b19"><i style="left:24%;top:4%;width:56%;height:70%;background:#3b2319"></i><i style="left:36%;top:16%;width:30%;height:42%;background:#ca9073"></i><i style="left:6%;top:66%;width:44%;height:40%;background:#8f8f8d"></i><i style="left:40%;top:56%;width:22%;height:22%;background:#c28a6e"></i></div>
<span class="t" style="left:608.2px;top:1193.3px;font-size:22px;line-height:22px;color:#173f70;letter-spacing:0.15px;-webkit-text-stroke:0.25px #173f70;">Евдокимова М.Т.</span>
<span class="t" style="left:608.2px;top:1223.3px;font-size:18px;line-height:18px;color:#70757f;letter-spacing:0.19px;">Специалист по работе с клиентами /</span>
<span class="t" style="left:608.2px;top:1244.9px;font-size:18px;line-height:18px;color:#70757f;letter-spacing:0.29px;">Отдел клиентского сервиса</span>
<span class="t" style="left:1270.0px;top:1216.2px;font-size:22.5px;line-height:22.5px;color:#24272d;letter-spacing:-0.08px;transform:translateX(-50%);-webkit-text-stroke:0.2px #24272d;">10.06.2024-09.06.2025</span>
<span class="t" style="left:1635.0px;top:1217.2px;font-size:21px;line-height:21px;color:#24272d;letter-spacing:0.1px;transform:translateX(-50%);-webkit-text-stroke:0.2px #24272d;">123.1 %</span>
<span class="t" style="left:1972.0px;top:1217.2px;font-size:21px;line-height:21px;color:#24272d;letter-spacing:0.1px;transform:translateX(-50%);-webkit-text-stroke:0.2px #24272d;">124.8 %</span>
<span class="t" style="left:2274.0px;top:1217.2px;font-size:21px;line-height:21px;color:#24272d;letter-spacing:0.1px;transform:translateX(-50%);-webkit-text-stroke:0.2px #24272d;">114.7 %</span>
<span class="t" style="left:2534.0px;top:1217.2px;font-size:21px;line-height:21px;color:#24272d;letter-spacing:0.1px;transform:translateX(-50%);-webkit-text-stroke:0.2px #24272d;">120.9 %</span>
<div style="position:absolute;left:527.6px;top:1399.0px;width:2117.4px;height:2.0px;background:#eef0f4;"></div>
<div class="av" style="left:555.6px;top:1310.4px;background:#8a78a8"><i style="left:25%;top:5%;width:55%;height:60%;background:#5b4b81"></i><i style="left:35%;top:20%;width:32%;height:42%;background:#d0a8a8"></i></div>
<span class="t" style="left:608.2px;top:1309.0px;font-size:22px;line-height:22px;color:#173f70;letter-spacing:-0.65px;-webkit-text-stroke:0.25px #173f70;">Воронцова О.Д.</span>
<span class="t" style="left:608.2px;top:1339.0px;font-size:18px;line-height:18px;color:#70757f;letter-spacing:0.19px;">Специалист по работе с клиентами /</span>
<span class="t" style="left:608.2px;top:1360.6px;font-size:18px;line-height:18px;color:#70757f;letter-spacing:0.29px;">Отдел клиентского сервиса</span>
<span class="t" style="left:1270.0px;top:1332.0px;font-size:22.5px;line-height:22.5px;color:#24272d;letter-spacing:-0.08px;transform:translateX(-50%);-webkit-text-stroke:0.2px #24272d;">10.06.2024-09.06.2025</span>
<span class="t" style="left:1635.0px;top:1332.9px;font-size:21px;line-height:21px;color:#24272d;letter-spacing:0.1px;transform:translateX(-50%);-webkit-text-stroke:0.2px #24272d;">122.9 %</span>
<span class="t" style="left:1972.0px;top:1332.9px;font-size:21px;line-height:21px;color:#24272d;letter-spacing:0.1px;transform:translateX(-50%);-webkit-text-stroke:0.2px #24272d;">124.5 %</span>
<span class="t" style="left:2274.0px;top:1332.9px;font-size:21px;line-height:21px;color:#24272d;letter-spacing:0.1px;transform:translateX(-50%);-webkit-text-stroke:0.2px #24272d;">114.3 %</span>
<span class="t" style="left:2534.0px;top:1332.9px;font-size:21px;line-height:21px;color:#24272d;letter-spacing:0.1px;transform:translateX(-50%);-webkit-text-stroke:0.2px #24272d;">120.6 %</span>
<div style="position:absolute;left:527.6px;top:1515.0px;width:2117.4px;height:2.0px;background:#eef0f4;"></div>
<div class="av" style="left:555.6px;top:1426.2px;background:#8a6a55"><i style="left:30%;top:15%;width:40%;height:50%;background:#d9b59a"></i></div>
<span class="t" style="left:608.2px;top:1424.8px;font-size:22px;line-height:22px;color:#173f70;letter-spacing:-1.93px;-webkit-text-stroke:0.25px #173f70;">Зайцева Н.С.</span>
<span class="t" style="left:608.2px;top:1454.8px;font-size:18px;line-height:18px;color:#70757f;letter-spacing:0.34px;">Специалист по продажам / Отдел продаж</span>
<span class="t" style="left:608.2px;top:1476.4px;font-size:18px;line-height:18px;color:#70757f;letter-spacing:0.39px;">и маркетинга</span>
<span class="t" style="left:1270.0px;top:1447.7px;font-size:22.5px;line-height:22.5px;color:#24272d;letter-spacing:-0.08px;transform:translateX(-50%);-webkit-text-stroke:0.2px #24272d;">10.06.2024-09.06.2025</span>
<span class="t" style="left:1635.0px;top:1448.7px;font-size:21px;line-height:21px;color:#24272d;letter-spacing:0.1px;transform:translateX(-50%);-webkit-text-stroke:0.2px #24272d;">121.7 %</span>
<span class="t" style="left:1972.0px;top:1448.7px;font-size:21px;line-height:21px;color:#24272d;letter-spacing:0.1px;transform:translateX(-50%);-webkit-text-stroke:0.2px #24272d;">124.2 %</span>
<span class="t" style="left:2274.0px;top:1448.7px;font-size:21px;line-height:21px;color:#24272d;letter-spacing:0.1px;transform:translateX(-50%);-webkit-text-stroke:0.2px #24272d;">113.1 %</span>
<span class="t" style="left:2534.0px;top:1448.7px;font-size:21px;line-height:21px;color:#24272d;letter-spacing:0.1px;transform:translateX(-50%);-webkit-text-stroke:0.2px #24272d;">119.7 %</span>
<div style="position:absolute;left:527.6px;top:1610.0px;width:2117.4px;height:2.0px;background:#eef0f4;"></div>
<div class="av" style="left:555.6px;top:1541.9px;background:#66707a"><i style="left:30%;top:15%;width:40%;height:50%;background:#d9b59a"></i></div>
<span class="t" style="left:608.2px;top:1539.8px;font-size:22px;line-height:22px;color:#173f70;letter-spacing:-1.32px;-webkit-text-stroke:0.25px #173f70;">Рябова Л.М.</span>
<span class="t" style="left:608.2px;top:1570.3px;font-size:18px;line-height:18px;color:#70757f;">Аналитик / Отдел продаж</span>
<span class="t" style="left:1270.0px;top:1552.9px;font-size:22.5px;line-height:22.5px;color:#24272d;letter-spacing:-0.08px;transform:translateX(-50%);-webkit-text-stroke:0.2px #24272d;">10.06.2024-09.06.2025</span>
<span class="t" style="left:1635.0px;top:1553.9px;font-size:21px;line-height:21px;color:#24272d;letter-spacing:0.1px;transform:translateX(-50%);-webkit-text-stroke:0.2px #24272d;">120.6 %</span>
<span class="t" style="left:1972.0px;top:1553.9px;font-size:21px;line-height:21px;color:#24272d;letter-spacing:0.1px;transform:translateX(-50%);-webkit-text-stroke:0.2px #24272d;">123.8 %</span>
<span class="t" style="left:2274.0px;top:1553.9px;font-size:21px;line-height:21px;color:#24272d;letter-spacing:0.1px;transform:translateX(-50%);-webkit-text-stroke:0.2px #24272d;">112.6 %</span>
<span class="t" style="left:2534.0px;top:1553.9px;font-size:21px;line-height:21px;color:#24272d;letter-spacing:0.1px;transform:translateX(-50%);-webkit-text-stroke:0.2px #24272d;">119.0 %</span>
<div style="position:absolute;left:527.6px;top:1704.0px;width:2117.4px;height:2.0px;background:#eef0f4;"></div>
<div class="av" style="left:555.6px;top:1636.5px;background:#7b6b5d"><i style="left:10%;top:30%;width:80%;height:80%;background:#20262c"></i><i style="left:30%;top:10%;width:40%;height:40%;background:#3b4751"></i></div>
<span class="t" style="left:608.2px;top:1634.4px;font-size:22px;line-height:22px;color:#173f70;letter-spacing:0.10px;-webkit-text-stroke:0.25px #173f70;">Конев И.А.</span>
<span class="t" style="left:608.2px;top:1664.9px;font-size:18px;line-height:18px;color:#70757f;letter-spacing:0.28px;">Логист / Отдел логистики</span>
<span class="t" style="left:1270.0px;top:1647.5px;font-size:22.5px;line-height:22.5px;color:#24272d;letter-spacing:-0.08px;transform:translateX(-50%);-webkit-text-stroke:0.2px #24272d;">10.06.2024-09.06.2025</span>
<span class="t" style="left:1635.0px;top:1648.5px;font-size:21px;line-height:21px;color:#24272d;letter-spacing:0.1px;transform:translateX(-50%);-webkit-text-stroke:0.2px #24272d;">120.4 %</span>
<span class="t" style="left:1972.0px;top:1648.5px;font-size:21px;line-height:21px;color:#24272d;letter-spacing:0.1px;transform:translateX(-50%);-webkit-text-stroke:0.2px #24272d;">123.7 %</span>
<span class="t" style="left:2274.0px;top:1648.5px;font-size:21px;line-height:21px;color:#24272d;letter-spacing:0.1px;transform:translateX(-50%);-webkit-text-stroke:0.2px #24272d;">111.4 %</span>
<span class="t" style="left:2534.0px;top:1648.5px;font-size:21px;line-height:21px;color:#24272d;letter-spacing:0.1px;transform:translateX(-50%);-webkit-text-stroke:0.2px #24272d;">118.5%</span>
<div style="position:absolute;left:527.6px;top:1820.0px;width:2117.4px;height:2.0px;background:#eef0f4;"></div>
<div class="av" style="left:555.6px;top:1731.1px;background:#8b6b59"><i style="left:30%;top:15%;width:40%;height:50%;background:#d9b59a"></i></div>
<span class="t" style="left:608.2px;top:1729.7px;font-size:22px;line-height:22px;color:#173f70;letter-spacing:-0.12px;-webkit-text-stroke:0.25px #173f70;">Корнеева Т.В.</span>
<span class="t" style="left:608.2px;top:1759.7px;font-size:18px;line-height:18px;color:#70757f;letter-spacing:0.19px;">Специалист по работе с клиентами /</span>
<span class="t" style="left:608.2px;top:1781.3px;font-size:18px;line-height:18px;color:#70757f;letter-spacing:0.29px;">Отдел клиентского сервиса</span>
<span class="t" style="left:1270.0px;top:1752.7px;font-size:22.5px;line-height:22.5px;color:#24272d;letter-spacing:-0.08px;transform:translateX(-50%);-webkit-text-stroke:0.2px #24272d;">10.06.2024-09.06.2025</span>
<span class="t" style="left:1635.0px;top:1753.6px;font-size:21px;line-height:21px;color:#24272d;letter-spacing:0.1px;transform:translateX(-50%);-webkit-text-stroke:0.2px #24272d;">119.7 %</span>
<span class="t" style="left:1972.0px;top:1753.6px;font-size:21px;line-height:21px;color:#24272d;letter-spacing:0.1px;transform:translateX(-50%);-webkit-text-stroke:0.2px #24272d;">122.1 %</span>
<span class="t" style="left:2274.0px;top:1753.6px;font-size:21px;line-height:21px;color:#24272d;letter-spacing:0.1px;transform:translateX(-50%);-webkit-text-stroke:0.2px #24272d;">110.9 %</span>
<span class="t" style="left:2534.0px;top:1753.6px;font-size:21px;line-height:21px;color:#24272d;letter-spacing:0.1px;transform:translateX(-50%);-webkit-text-stroke:0.2px #24272d;">117.6 %</span>
<div style="position:absolute;left:527.6px;top:1936.0px;width:2117.4px;height:2.0px;background:#eef0f4;"></div>
<div class="av" style="left:555.6px;top:1846.9px;background:#d1d3d5"><i style="left:0%;top:10%;width:100%;height:6%;background:#bfc1c3"></i><i style="left:0%;top:26%;width:100%;height:6%;background:#bfc1c3"></i><i style="left:0%;top:42%;width:100%;height:6%;background:#c3c5c7"></i><i style="left:32%;top:42%;width:36%;height:28%;background:#2b2523"></i><i style="left:36%;top:56%;width:28%;height:36%;background:#c9a083"></i><i style="left:34%;top:66%;width:32%;height:8%;background:#2b2523"></i><i style="left:20%;top:92%;width:60%;height:20%;background:#3b3b40"></i></div>
<span class="t" style="left:608.2px;top:1845.5px;font-size:22px;line-height:22px;color:#173f70;letter-spacing:0.07px;-webkit-text-stroke:0.25px #173f70;">Лионин Б.Д.</span>
<span class="t" style="left:608.2px;top:1875.5px;font-size:18px;line-height:18px;color:#70757f;letter-spacing:0.19px;">Специалист по работе с клиентами /</span>
<span class="t" style="left:608.2px;top:1897.1px;font-size:18px;line-height:18px;color:#70757f;letter-spacing:0.29px;">Отдел клиентского сервиса</span>
<span class="t" style="left:1270.0px;top:1857.6px;font-size:22.5px;line-height:22.5px;color:#24272d;letter-spacing:-0.08px;transform:translateX(-50%);-webkit-text-stroke:0.2px #24272d;">10.06.2024-09.06.2025</span>
<span class="t" style="left:1635.0px;top:1858.5px;font-size:21px;line-height:21px;color:#24272d;letter-spacing:0.1px;transform:translateX(-50%);-webkit-text-stroke:0.2px #24272d;">119.5 %</span>
<span class="t" style="left:1972.0px;top:1858.5px;font-size:21px;line-height:21px;color:#24272d;letter-spacing:0.1px;transform:translateX(-50%);-webkit-text-stroke:0.2px #24272d;">120.8 %</span>
<span class="t" style="left:2274.0px;top:1858.5px;font-size:21px;line-height:21px;color:#24272d;letter-spacing:0.1px;transform:translateX(-50%);-webkit-text-stroke:0.2px #24272d;">110.3 %</span>
<span class="t" style="left:2534.0px;top:1858.5px;font-size:21px;line-height:21px;color:#24272d;letter-spacing:0.1px;transform:translateX(-50%);-webkit-text-stroke:0.2px #24272d;">116.9 %</span>
</div></div>
<div style="position:absolute;left:1553.3px;top:166.2px;width:789.4px;height:163.0px;background:#04406f;border-radius:15px;box-shadow:0 3px 12px rgba(0,20,50,.08);"></div>
<span class="t" style="left:1948.0px;top:191.8px;font-size:27px;line-height:27px;color:#fff;font-weight:700;letter-spacing:0.19px;transform:translateX(-50%);">HR-31</span>
<span class="t" style="left:1948.0px;top:230.3px;font-size:27px;line-height:27px;color:#fff;letter-spacing:0.48px;transform:translateX(-50%);">Привлечение лучших человеческих ресурсов в компанию</span>
<span class="t" style="left:1948.0px;top:269.6px;font-size:33px;line-height:33px;color:#fff;font-weight:700;letter-spacing:-0.19px;transform:translateX(-50%);">72.15%</span>
<svg style="position:absolute;left:1640px;top:340px" width="620" height="110" viewBox="1640 340 620 110" fill="none" stroke="#1f5a8d" stroke-width="2"><path d="M1947.4 352 V442"/><path d="M1947.4 364 C1947.4 382.5 1932 395.9 1914 395.9 H1699 A27.7 27.7 0 0 0 1671.3 423.6 V442"/><path d="M1947.4 364 C1947.4 382.5 1963 395.9 1981 395.9 H2201 A27.7 27.7 0 0 1 2228.7 423.6 V442"/></svg>
<div style="position:absolute;left:1928.2px;top:317.6px;width:38.6px;height:38.3px;background:#fff;border-radius:6px;box-shadow:0 1px 5px rgba(0,0,0,.16);"></div>
<svg style="position:absolute;left:1937.5px;top:329.1px" width="20" height="15" viewBox="0 0 20 15" fill="none" stroke="#a9adb4" stroke-width="1.4" stroke-linecap="round" stroke-linejoin="round"><path d="M2.5 11 L10 4 L17.5 11"/></svg>
<div style="position:absolute;left:1556.0px;top:440.6px;width:235.0px;height:86.4px;background:#fdfd9c;border-radius:13px;box-shadow:0 1px 6px rgba(60,90,20,.12);"></div>
<span class="t" style="left:1673.5px;top:455.4px;font-size:17.5px;line-height:17.5px;color:#1d4f80;letter-spacing:-0.12px;transform:translateX(-50%);">Руководители</span>
<span class="t" style="left:1673.5px;top:479.2px;font-size:31px;line-height:31px;color:#0c3a66;font-weight:700;letter-spacing:-0.18px;transform:translateX(-50%);">75.0%</span>
<div style="position:absolute;left:1653.0px;top:516.8px;width:38.6px;height:38.3px;background:#fff;border-radius:6px;box-shadow:0 1px 5px rgba(0,0,0,.16);"></div>
<svg style="position:absolute;left:1662.3px;top:528.3px" width="20" height="15" viewBox="0 0 20 15" fill="none" stroke="#a9adb4" stroke-width="1.4" stroke-linecap="round" stroke-linejoin="round"><path d="M2.5 4 L10 11 L17.5 4"/></svg>
<div style="position:absolute;left:1830.0px;top:440.6px;width:236.0px;height:86.4px;background:#c6fb7b;border-radius:13px;box-shadow:0 1px 6px rgba(60,90,20,.12);"></div>
<span class="t" style="left:1948.0px;top:455.4px;font-size:17.5px;line-height:17.5px;color:#1d4f80;letter-spacing:-0.16px;transform:translateX(-50%);">Специалисты</span>
<span class="t" style="left:1948.0px;top:479.2px;font-size:31px;line-height:31px;color:#0c3a66;font-weight:700;letter-spacing:-1.08px;transform:translateX(-50%);">77.7%</span>
<div style="position:absolute;left:1927.5px;top:516.8px;width:38.6px;height:38.3px;background:#fff;border-radius:6px;box-shadow:0 1px 5px rgba(0,0,0,.16);"></div>
<svg style="position:absolute;left:1936.8px;top:528.3px" width="20" height="15" viewBox="0 0 20 15" fill="none" stroke="#a9adb4" stroke-width="1.4" stroke-linecap="round" stroke-linejoin="round"><path d="M2.5 4 L10 11 L17.5 4"/></svg>
<div style="position:absolute;left:2104.0px;top:440.6px;width:235.3px;height:86.4px;background:#c6fb7b;border-radius:13px;box-shadow:0 1px 6px rgba(60,90,20,.12);"></div>
<span class="t" style="left:2221.7px;top:455.4px;font-size:17.5px;line-height:17.5px;color:#1d4f80;letter-spacing:-0.12px;transform:translateX(-50%);">Рабочие</span>
<span class="t" style="left:2221.7px;top:479.2px;font-size:31px;line-height:31px;color:#0c3a66;font-weight:700;letter-spacing:0.22px;transform:translateX(-50%);">80.3%</span>
<div style="position:absolute;left:2201.2px;top:516.8px;width:38.6px;height:38.3px;background:#fff;border-radius:6px;box-shadow:0 1px 5px rgba(0,0,0,.16);"></div>
<svg style="position:absolute;left:2210.5px;top:528.3px" width="20" height="15" viewBox="0 0 20 15" fill="none" stroke="#a9adb4" stroke-width="1.4" stroke-linecap="round" stroke-linejoin="round"><path d="M2.5 4 L10 11 L17.5 4"/></svg>
<svg style="position:absolute;left:200px;top:1270px" width="780" height="660" viewBox="200 1270 780 660" fill="none" stroke="#2c5078" stroke-width="2.4"><path d="M228 1296 V1876 A24 24 0 0 0 252 1900 H942"/><path d="M221 1297 L228 1283.5 L235 1297Z" fill="#2c5078" stroke="none"/><path d="M939 1893.3 L952.6 1900 L939 1906.7Z" fill="#2c5078" stroke="none"/></svg>
<div style="position:absolute;left:286.8px;top:1314.0px;width:200.0px;height:164.8px;background:#fdc10f;border-radius:15px;box-shadow:0 0 5px #fdc10f88;"></div>
<span class="t" style="left:299.8px;top:1330.0px;font-size:17px;line-height:17px;color:#fff;font-weight:700;letter-spacing:0.75px;-webkit-text-stroke:0.35px #fff;">Перспективные</span>
<span class="t" style="left:299.8px;top:1351.6px;font-size:17px;line-height:17px;color:#fff;font-weight:700;letter-spacing:0.81px;-webkit-text-stroke:0.35px #fff;">сотрудники</span>
<span class="t" style="left:319.0px;top:1387.8px;font-size:18.5px;line-height:18.5px;color:rgba(255,255,255,.93);letter-spacing:0.15px;">Сотрудники: 6</span>
<span class="t" style="left:473.8px;top:1453.0px;font-size:13px;line-height:13px;color:rgba(255,255,255,.9);letter-spacing:0.32px;transform:translateX(-100%);">рекомендации</span>
<div style="position:absolute;left:501.8px;top:1314.0px;width:200.0px;height:164.8px;background:#2296f3;border-radius:15px;box-shadow:0 0 5px #2296f388;"></div>
<span class="t" style="left:514.8px;top:1330.0px;font-size:17px;line-height:17px;color:#fff;font-weight:700;letter-spacing:0.46px;-webkit-text-stroke:0.35px #fff;">Таланты</span>
<span class="t" style="left:514.8px;top:1351.6px;font-size:17px;line-height:17px;color:#fff;font-weight:700;letter-spacing:0.27px;-webkit-text-stroke:0.35px #fff;">в развитии</span>
<span class="t" style="left:534.0px;top:1387.8px;font-size:18.5px;line-height:18.5px;color:rgba(255,255,255,.93);letter-spacing:0.15px;">Сотрудники: 12</span>
<span class="t" style="left:688.8px;top:1453.0px;font-size:13px;line-height:13px;color:rgba(255,255,255,.9);letter-spacing:0.32px;transform:translateX(-100%);">рекомендации</span>
<div style="position:absolute;left:717.6px;top:1314.0px;width:200.0px;height:164.8px;background:#4caf50;border-radius:15px;box-shadow:0 0 5px #4caf5088;"></div>
<span class="t" style="left:730.6px;top:1330.0px;font-size:17px;line-height:17px;color:#fff;font-weight:700;letter-spacing:0.73px;-webkit-text-stroke:0.35px #fff;">Лидеры будущего</span>
<span class="t" style="left:749.8px;top:1387.8px;font-size:18.5px;line-height:18.5px;color:rgba(255,255,255,.93);letter-spacing:0.15px;">Сотрудники: 17</span>
<span class="t" style="left:904.6px;top:1453.0px;font-size:13px;line-height:13px;color:rgba(255,255,255,.9);letter-spacing:0.32px;transform:translateX(-100%);">рекомендации</span>
<div style="position:absolute;left:286.8px;top:1494.8px;width:200.0px;height:164.8px;background:#ff9801;border-radius:15px;box-shadow:0 0 5px #ff980188;"></div>
<span class="t" style="left:299.8px;top:1510.8px;font-size:17px;line-height:17px;color:#fff;font-weight:700;letter-spacing:0.36px;-webkit-text-stroke:0.35px #fff;">Зона для развития</span>
<span class="t" style="left:319.0px;top:1563.9px;font-size:18.5px;line-height:18.5px;color:rgba(255,255,255,.93);letter-spacing:0.15px;">Сотрудники: 7</span>
<span class="t" style="left:473.8px;top:1633.8px;font-size:13px;line-height:13px;color:rgba(255,255,255,.9);letter-spacing:0.32px;transform:translateX(-100%);">рекомендации</span>
<div style="position:absolute;left:501.8px;top:1494.8px;width:200.0px;height:164.8px;background:#05a9f4;border-radius:15px;box-shadow:0 0 5px #05a9f488;"></div>
<span class="t" style="left:514.8px;top:1510.8px;font-size:17px;line-height:17px;color:#fff;font-weight:700;letter-spacing:0.46px;-webkit-text-stroke:0.35px #fff;">Стабильная</span>
<span class="t" style="left:514.8px;top:1532.4px;font-size:17px;line-height:17px;color:#fff;font-weight:700;letter-spacing:0.89px;-webkit-text-stroke:0.35px #fff;">команда</span>
<span class="t" style="left:534.0px;top:1563.9px;font-size:18.5px;line-height:18.5px;color:rgba(255,255,255,.93);letter-spacing:0.15px;">Сотрудники: 30</span>
<span class="t" style="left:688.8px;top:1633.8px;font-size:13px;line-height:13px;color:rgba(255,255,255,.9);letter-spacing:0.32px;transform:translateX(-100%);">рекомендации</span>
<div style="position:absolute;left:717.6px;top:1494.8px;width:200.0px;height:164.8px;background:#8bc34a;border-radius:15px;box-shadow:0 0 5px #8bc34a88;"></div>
<span class="t" style="left:730.6px;top:1510.8px;font-size:17px;line-height:17px;color:#fff;font-weight:700;letter-spacing:0.80px;-webkit-text-stroke:0.35px #fff;">Надёжная опора</span>
<span class="t" style="left:749.8px;top:1563.9px;font-size:18.5px;line-height:18.5px;color:rgba(255,255,255,.93);letter-spacing:0.15px;">Сотрудники: 42</span>
<span class="t" style="left:904.6px;top:1633.8px;font-size:13px;line-height:13px;color:rgba(255,255,255,.9);letter-spacing:0.32px;transform:translateX(-100%);">рекомендации</span>
<div style="position:absolute;left:286.8px;top:1674.6px;width:200.0px;height:164.8px;background:#f44336;border-radius:15px;box-shadow:0 0 5px #f4433688;"></div>
<span class="t" style="left:299.8px;top:1690.6px;font-size:17px;line-height:17px;color:#fff;font-weight:700;letter-spacing:0.67px;-webkit-text-stroke:0.35px #fff;">Потенциал к</span>
<span class="t" style="left:299.8px;top:1712.2px;font-size:17px;line-height:17px;color:#fff;font-weight:700;letter-spacing:0.44px;-webkit-text-stroke:0.35px #fff;">улучшению</span>
<span class="t" style="left:319.0px;top:1743.7px;font-size:18.5px;line-height:18.5px;color:rgba(255,255,255,.93);letter-spacing:0.15px;">Сотрудники: 3</span>
<span class="t" style="left:473.8px;top:1813.6px;font-size:13px;line-height:13px;color:rgba(255,255,255,.9);letter-spacing:0.32px;transform:translateX(-100%);">рекомендации</span>
<div style="position:absolute;left:501.8px;top:1674.6px;width:200.0px;height:164.8px;background:#02bcd4;border-radius:15px;box-shadow:0 0 5px #02bcd488;"></div>
<span class="t" style="left:514.8px;top:1690.6px;font-size:17px;line-height:17px;color:#fff;font-weight:700;letter-spacing:1.27px;-webkit-text-stroke:0.35px #fff;">Поддержка</span>
<span class="t" style="left:514.8px;top:1712.2px;font-size:17px;line-height:17px;color:#fff;font-weight:700;letter-spacing:0.74px;-webkit-text-stroke:0.35px #fff;">команды</span>
<span class="t" style="left:534.0px;top:1743.7px;font-size:18.5px;line-height:18.5px;color:rgba(255,255,255,.93);letter-spacing:0.15px;">Сотрудники: 5</span>
<span class="t" style="left:688.8px;top:1813.6px;font-size:13px;line-height:13px;color:rgba(255,255,255,.9);letter-spacing:0.32px;transform:translateX(-100%);">рекомендации</span>
<div style="position:absolute;left:717.6px;top:1674.6px;width:200.0px;height:164.8px;background:#cddc3a;border-radius:15px;box-shadow:0 0 5px #cddc3a88;"></div>
<span class="t" style="left:730.6px;top:1690.6px;font-size:17px;line-height:17px;color:#fff;font-weight:700;letter-spacing:0.49px;-webkit-text-stroke:0.35px #fff;">Опытные</span>
<span class="t" style="left:730.6px;top:1712.2px;font-size:17px;line-height:17px;color:#fff;font-weight:700;letter-spacing:0.77px;-webkit-text-stroke:0.35px #fff;">эксперты</span>
<span class="t" style="left:749.8px;top:1743.7px;font-size:18.5px;line-height:18.5px;color:rgba(255,255,255,.93);letter-spacing:0.15px;">Сотрудники: 24</span>
<span class="t" style="left:904.6px;top:1813.6px;font-size:13px;line-height:13px;color:rgba(255,255,255,.9);letter-spacing:0.32px;transform:translateX(-100%);">рекомендации</span>
<div style="position:absolute;left:206.5px;top:1314.0px;width:41.6px;height:164.8px;background:#fdc10f;border-radius:13px;box-shadow:0 0 5px #fdc10f88;"></div>
<span class="t" style="left:228.6px;top:1396.4px;font-size:19px;line-height:20px;color:#fff;transform:translate(-50%,-50%) rotate(-90deg);letter-spacing:0.3px">высокий</span>
<div style="position:absolute;left:206.5px;top:1494.8px;width:41.6px;height:164.8px;background:#ff9801;border-radius:13px;box-shadow:0 0 5px #ff980188;"></div>
<span class="t" style="left:228.6px;top:1577.2px;font-size:19px;line-height:20px;color:#fff;transform:translate(-50%,-50%) rotate(-90deg);letter-spacing:0.3px">средний</span>
<div style="position:absolute;left:206.5px;top:1674.6px;width:41.6px;height:164.8px;background:#f44336;border-radius:13px;box-shadow:0 0 5px #f4433688;"></div>
<span class="t" style="left:228.6px;top:1757.0px;font-size:19px;line-height:20px;color:#fff;transform:translate(-50%,-50%) rotate(-90deg);letter-spacing:0.3px">низкий</span>
<div style="position:absolute;left:286.8px;top:1877.3px;width:200.0px;height:41.7px;background:#f44336;border-radius:13px;box-shadow:0 0 5px #f4433688;"></div>
<span class="t" style="left:386.8px;top:1888.7px;font-size:19.5px;line-height:19.5px;color:#fff;letter-spacing:0.35px;transform:translateX(-50%);">низкий</span>
<div style="position:absolute;left:501.8px;top:1877.3px;width:200.0px;height:41.7px;background:#2296f3;border-radius:13px;box-shadow:0 0 5px #2296f388;"></div>
<span class="t" style="left:601.8px;top:1888.7px;font-size:19.5px;line-height:19.5px;color:#fff;letter-spacing:0.35px;transform:translateX(-50%);">средний</span>
<div style="position:absolute;left:717.6px;top:1877.3px;width:200.0px;height:41.7px;background:#0bb30b;border-radius:13px;box-shadow:0 0 5px #0bb30b88;"></div>
<span class="t" style="left:817.6px;top:1888.7px;font-size:19.5px;line-height:19.5px;color:#fff;letter-spacing:0.35px;transform:translateX(-50%);">высокий</span>
<span class="t" style="left:159.3px;top:1576.3px;font-size:27px;line-height:27px;font-weight:700;color:#0b4d8a;transform:translate(-50%,-50%) rotate(-90deg) scaleX(0.868);-webkit-text-stroke:1.4px #0b4d8a;filter:blur(.7px)">Компетенции</span>
<span class="t" style="left:602px;top:1953.2px;font-size:26px;line-height:26px;font-weight:700;color:#0b4d8a;transform:translate(-50%,-50%) scaleX(0.915);-webkit-text-stroke:1.5px #0b4d8a;filter:blur(.7px)">Цели</span>
</body></html>
